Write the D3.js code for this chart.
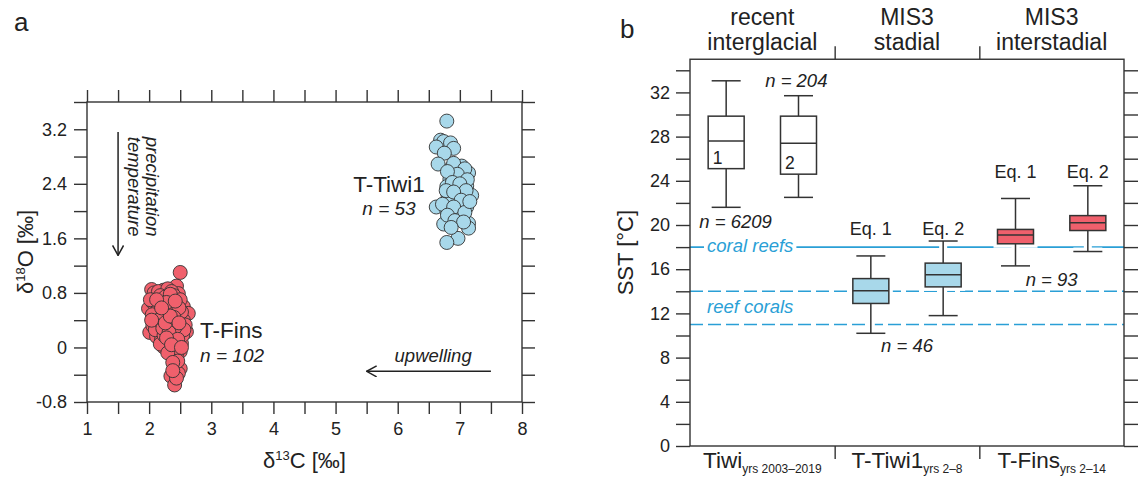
<!DOCTYPE html>
<html>
<head>
<meta charset="utf-8">
<script src="https://cdn.jsdelivr.net/npm/d3@7"></script>
<style>
body { margin: 0; background: #fff; }
svg text { font-family: Arial, "Liberation Sans", sans-serif; fill: #222; }
</style>
</head>
<body>
<svg id="chart" width="1141" height="477"></svg>
<script>
// ---------- panel a data : [d13C, d18O] ----------
var finsPoints = [
  [2.50,1.10],[2.04,0.85],[2.44,0.90],[2.47,0.79],[2.23,0.84],[2.10,0.73],[2.20,0.67],[2.44,0.65],[2.55,0.60],[1.99,0.57],
  [2.12,0.56],[2.28,0.52],[2.63,0.50],[2.39,0.48],[2.12,0.43],[2.33,0.40],[2.23,0.35],[2.47,0.30],[2.01,0.22],[2.60,0.23],
  [2.17,0.21],[2.33,0.16],[2.50,0.13],[2.23,0.01],[2.32,-0.01],[2.52,0.06],[2.50,-0.06],[2.41,-0.16],[2.41,-0.28],[2.50,-0.31],
  [2.35,-0.42],[2.41,-0.55],[2.47,-0.38],
  [2.08,0.80],[2.15,0.82],[2.30,0.86],[2.36,0.82],[2.40,0.76],[2.18,0.76],[2.26,0.74],[2.32,0.70],[2.06,0.66],[2.14,0.62],
  [2.24,0.60],[2.36,0.62],[2.50,0.70],[2.42,0.56],[2.30,0.58],[2.18,0.52],[2.05,0.48],[2.10,0.36],[2.20,0.44],[2.26,0.46],
  [2.36,0.50],[2.46,0.44],[2.55,0.40],[2.52,0.52],[2.58,0.33],[2.40,0.36],[2.30,0.30],[2.16,0.30],[2.06,0.32],[2.26,0.25],
  [2.38,0.26],[2.44,0.20],[2.54,0.18],[2.12,0.16],[2.20,0.12],[2.28,0.08],[2.38,0.10],[2.45,0.04],[2.18,0.05],[2.36,-0.04],
  [2.44,-0.10],[2.30,-0.08],[2.46,-0.20],[2.38,-0.22],[2.44,-0.45],[2.38,-0.34],[2.02,0.70],[2.10,0.26],[2.24,0.18],[2.34,0.78],
  [2.28,0.66],[2.48,0.58],[2.56,0.26],[2.42,0.30],[2.16,0.40],[2.04,0.40],[2.22,0.28],[2.32,0.22],[2.46,0.12],[2.26,0.36],
  [2.40,0.44],[2.12,0.70],[2.34,0.46],[2.20,0.58],[2.48,0.36],[2.28,0.14],[2.36,0.04],[2.52,0.00],[2.42,0.68]
];
var tiwiPoints = [
  [6.79,3.32],[6.69,3.04],[6.74,3.02],[6.85,3.00],[6.62,2.94],[6.90,2.92],[6.75,2.85],[6.65,2.69],[6.87,2.64],[7.03,2.66],
  [7.14,2.56],[6.84,2.47],[7.03,2.51],[7.11,2.37],[6.79,2.36],[6.92,2.36],[7.05,2.26],[7.19,2.23],[6.81,2.23],[6.95,2.19],
  [6.62,2.06],[6.84,2.14],[7.00,2.09],[7.11,2.06],[7.03,2.02],[6.79,2.01],[6.95,2.01],[6.84,1.89],[7.14,1.82],[7.14,1.75],
  [6.74,1.81],[7.00,1.92],[6.97,1.60],[6.79,1.54],
  [6.90,2.70],[7.08,2.62],[6.96,2.54],[6.80,2.58],[7.12,2.46],[6.88,2.42],[7.00,2.40],[6.78,2.30],[7.10,2.30],[6.90,2.28],
  [7.02,2.16],[6.72,2.10],[6.90,2.06],[7.08,1.98],[6.80,1.94],[6.92,1.86],[7.06,1.84],[6.86,1.76],[7.16,2.14]
];
var xTickLabelsA = [1, 2, 3, 4, 5, 6, 7, 8];
var yTickLabelsA = [-0.8, 0, 0.8, 1.6, 2.4, 3.2];

// ---------- panel b data : SST [deg C] ----------
var periods = [["recent", "interglacial"], ["MIS3", "stadial"], ["MIS3", "interstadial"]];
var sites = ["Tiwi", "T-Tiwi1", "T-Fins"];
var siteYears = ["yrs 2003\u20132019", "yrs 2\u20138", "yrs 2\u201314"];
var whiskLow  = [21.6, 22.5, 10.2, 11.8, 16.3, 17.6];
var quart1    = [25.1, 24.6, 12.9, 14.4, 18.3, 19.5];
var medians   = [27.6, 27.4, 14.05, 15.5, 19.1, 20.2];
var quart3    = [29.85, 29.85, 15.15, 16.55, 19.6, 20.85];
var whiskHigh = [33.05, 31.7, 17.2, 18.55, 22.4, 23.55];
var boxTags = ["1", "2", "Eq. 1", "Eq. 2", "Eq. 1", "Eq. 2"];
var sstTickLabels = [0, 4, 8, 12, 16, 20, 24, 28, 32];
var thresholdLevels = [18, 14, 11];
var nLabels = ["n = 6209", "n = 204", "n = 46", "n = 93"];

var ink = "#333";
var blueFill = "#a8d8ea";
var redFill = "#f0606c";
var lineBlue = "#2a9fd6";
var boxFills = ["#fff", "#fff", blueFill, blueFill, redFill, redFill];

var svg = d3.select("#chart");

// open arrow head
svg.append("defs").append("marker")
  .attr("id", "arrowOpen")
  .attr("viewBox", "0 0 12 12")
  .attr("refX", 11).attr("refY", 6)
  .attr("markerWidth", 12).attr("markerHeight", 12)
  .attr("markerUnits", "userSpaceOnUse")
  .attr("orient", "auto")
  .append("path")
  .attr("d", "M1,0.5 L11,6 L1,11.5")
  .attr("fill", "none").attr("stroke", "#222").attr("stroke-width", 1.5);

function styleAxis(g, size)
{
  g.select(".domain").remove();
  g.selectAll(".tick line").attr("stroke", ink).attr("stroke-width", 1.4);
  g.selectAll(".tick text").attr("font-size", size).attr("fill", "#222")
    .attr("font-family", "Arial, 'Liberation Sans', sans-serif");
}

// ================= panel a =================
var xA = d3.scaleLinear().domain([1, 8]).range([87, 522]);
var yA = d3.scaleLinear().domain([-0.8, 3.6]).range([402, 102]);
var gA = svg.append("g");

var xTickValsA = d3.range(2, 17).map(function(k) { return k * 0.5; });
var yTickValsA = d3.range(-2, 10).map(function(k) { return +(k * 0.4).toFixed(1); });
var fmtXA = function(v) { return xTickLabelsA.indexOf(v) >= 0 ? String(v) : ""; };
var fmtYA = function(v) { return yTickLabelsA.indexOf(v) >= 0 ? (v === 0 ? "0" : v.toFixed(1)) : ""; };

gA.append("g").attr("transform", "translate(0," + yA.range()[0] + ")")
  .call(d3.axisBottom(xA).tickValues(xTickValsA).tickFormat(fmtXA).tickSize(12).tickPadding(8))
  .call(styleAxis, 18);
gA.append("g").attr("transform", "translate(0," + yA.range()[1] + ")")
  .call(d3.axisTop(xA).tickValues(xTickValsA).tickFormat("").tickSize(12))
  .call(styleAxis, 18);
gA.append("g").attr("transform", "translate(" + xA.range()[0] + ",0)")
  .call(d3.axisLeft(yA).tickValues(yTickValsA).tickFormat(fmtYA).tickSize(13).tickPadding(7))
  .call(styleAxis, 18);
gA.append("g").attr("transform", "translate(" + xA.range()[1] + ",0)")
  .call(d3.axisRight(yA).tickValues(yTickValsA).tickFormat("").tickSize(13))
  .call(styleAxis, 18);

gA.append("rect")
  .attr("x", xA(1)).attr("y", yA(3.6))
  .attr("width", xA(8) - xA(1)).attr("height", yA(-0.8) - yA(3.6))
  .attr("fill", "none").attr("stroke", ink).attr("stroke-width", 1.4);

// scatter
[[finsPoints, redFill], [tiwiPoints, blueFill]].forEach(function(set)
{
  gA.append("g").selectAll("circle").data(set[0]).enter().append("circle")
    .attr("cx", function(d) { return xA(d[0]); })
    .attr("cy", function(d) { return yA(d[1]); })
    .attr("r", 7)
    .attr("fill", set[1])
    .attr("stroke", "#333").attr("stroke-width", 0.9);
});

// arrows
gA.append("line")
  .attr("x1", xA(1.5)).attr("x2", xA(1.5)).attr("y1", yA(3.16)).attr("y2", yA(1.35))
  .attr("stroke", "#222").attr("stroke-width", 1.5).attr("marker-end", "url(#arrowOpen)");
gA.append("line")
  .attr("x1", xA(7.5)).attr("x2", xA(5.5)).attr("y1", yA(-0.35)).attr("y2", yA(-0.35))
  .attr("stroke", "#222").attr("stroke-width", 1.5).attr("marker-end", "url(#arrowOpen)");

[["precipitation", 1.95], ["temperature", 1.66]].forEach(function(t)
{
  gA.append("text")
    .attr("transform", "translate(" + xA(t[1]) + "," + yA(3.09) + ") rotate(90)")
    .attr("font-size", 18.5).attr("font-style", "italic")
    .text(t[0]);
});
gA.append("text").attr("x", xA(6.57)).attr("y", yA(-0.21))
  .attr("text-anchor", "middle").attr("font-size", 18.5).attr("font-style", "italic")
  .text("upwelling");

gA.append("text").attr("x", xA(5.86)).attr("y", yA(2.28))
  .attr("text-anchor", "middle").attr("font-size", 22.5).text("T-Tiwi1");
gA.append("text").attr("x", xA(5.86)).attr("y", yA(1.94))
  .attr("text-anchor", "middle").attr("font-size", 19).attr("font-style", "italic").text("n = 53");
gA.append("text").attr("x", xA(2.82)).attr("y", yA(0.14))
  .attr("font-size", 22.5).text("T-Fins");
gA.append("text").attr("x", xA(2.82)).attr("y", yA(-0.21))
  .attr("font-size", 19).attr("font-style", "italic").text("n = 102");

// axis titles
var xTitle = gA.append("text")
  .attr("x", (xA(1) + xA(8)) / 2).attr("y", 468)
  .attr("text-anchor", "middle").attr("font-size", 22);
xTitle.append("tspan").text("\u03b4");
xTitle.append("tspan").attr("font-size", 13).attr("dy", -8).text("13");
xTitle.append("tspan").attr("dy", 8).text("C [\u2030]");

var yTitle = gA.append("text")
  .attr("transform", "translate(33," + (yA(-0.8) + yA(3.6)) / 2 + ") rotate(-90)")
  .attr("text-anchor", "middle").attr("font-size", 22);
yTitle.append("tspan").text("\u03b4");
yTitle.append("tspan").attr("font-size", 13).attr("dy", -8).text("18");
yTitle.append("tspan").attr("dy", 8).text("O [\u2030]");

svg.append("text").attr("x", 14).attr("y", 31).attr("font-size", 26).text("a");

// ================= panel b =================
var xB = d3.scaleLinear().domain([-0.5, 5.5]).range([690, 1124]);
var xG = d3.scaleLinear().domain([0, 3]).range([690, 1124]);
var yB = d3.scaleLinear().domain([0, 35]).range([446, 59.25]);
var gB = svg.append("g");

var sstTickVals = d3.range(0, 35, 2);
var fmtB = function(v) { return sstTickLabels.indexOf(v) >= 0 ? String(v) : ""; };

gB.append("g").attr("transform", "translate(" + xB.range()[0] + ",0)")
  .call(d3.axisLeft(yB).tickValues(sstTickVals).tickFormat(fmtB).tickSize(14).tickPadding(6))
  .call(styleAxis, 18);
gB.append("g").attr("transform", "translate(" + xB.range()[1] + ",0)")
  .call(d3.axisRight(yB).tickValues(sstTickVals).tickFormat("").tickSize(14))
  .call(styleAxis, 18);
gB.append("g").attr("transform", "translate(0," + yB.range()[1] + ")")
  .call(d3.axisTop(xG).tickValues([1, 2]).tickFormat("").tickSize(13))
  .call(styleAxis, 18);
gB.append("g").attr("transform", "translate(0," + yB.range()[0] + ")")
  .call(d3.axisBottom(xG).tickValues([1, 2]).tickFormat("").tickSize(13))
  .call(styleAxis, 18);

// threshold lines
thresholdLevels.forEach(function(level, i)
{
  gB.append("line")
    .attr("x1", xB.range()[0]).attr("x2", xB.range()[1])
    .attr("y1", yB(level)).attr("y2", yB(level))
    .attr("stroke", lineBlue).attr("stroke-width", 1.6)
    .attr("stroke-dasharray", i === 0 ? null : "13,5");
});

// zone labels with white knock-out
[["coral reefs", 17.58], ["reef corals", 12.04]].forEach(function(z)
{
  var t = gB.append("text").attr("x", xB.range()[0] + 17).attr("y", yB(z[1]))
    .attr("font-size", 18.5).attr("font-style", "italic").style("fill", lineBlue)
    .text(z[0]);
  var bb = t.node().getBBox();
  gB.insert("rect", function() { return t.node(); })
    .attr("x", bb.x - 3).attr("y", bb.y).attr("width", bb.width + 6).attr("height", bb.height)
    .attr("fill", "#fff");
});

// boxes
var capHalf = 14.5, boxHalf = 18;
d3.range(6).forEach(function(i)
{
  var cx = xB(i);
  var g = gB.append("g");
  // white halo so lines break around the boxes
  [["halo", "#fff", 8], ["ink", ink, 1.5]].forEach(function(layer)
  {
    var col = layer[1], w = layer[2];
    g.append("line").attr("x1", cx).attr("x2", cx).attr("y1", yB(whiskHigh[i])).attr("y2", yB(quart3[i]))
      .attr("stroke", col).attr("stroke-width", w);
    g.append("line").attr("x1", cx).attr("x2", cx).attr("y1", yB(quart1[i])).attr("y2", yB(whiskLow[i]))
      .attr("stroke", col).attr("stroke-width", w);
    [whiskHigh[i], whiskLow[i]].forEach(function(v)
    {
      g.append("line").attr("x1", cx - capHalf).attr("x2", cx + capHalf).attr("y1", yB(v)).attr("y2", yB(v))
        .attr("stroke", col).attr("stroke-width", w);
    });
    g.append("rect")
      .attr("x", cx - boxHalf).attr("width", 2 * boxHalf)
      .attr("y", yB(quart3[i])).attr("height", yB(quart1[i]) - yB(quart3[i]))
      .attr("fill", layer[0] === "halo" ? "#fff" : boxFills[i])
      .attr("stroke", col).attr("stroke-width", w);
  });
  g.append("line").attr("x1", cx - boxHalf).attr("x2", cx + boxHalf).attr("y1", yB(medians[i])).attr("y2", yB(medians[i]))
    .attr("stroke", ink).attr("stroke-width", 1.5);
});

// box tags: numbers inside the Tiwi boxes, equation names above the fossil boxes
var eqLevels = [null, null, 19.1, 19.1, 24.25, 24.25];
boxTags.forEach(function(tag, i)
{
  if (eqLevels[i] === null)
  {
    gB.append("text").attr("x", xB(i) - boxHalf + 4.5).attr("y", yB(quart1[i]) - 5)
      .attr("font-size", 17.5).text(tag);
  }
  else
  {
    gB.append("text").attr("x", xB(i)).attr("y", yB(eqLevels[i]))
      .attr("text-anchor", "middle").attr("font-size", 18).text(tag);
  }
});

// sample sizes
var nPos = [[0.13, 19.75], [0.97, 32.45], [2.5, 8.53], [4.5, 14.48]];
nLabels.forEach(function(lab, i)
{
  gB.append("text").attr("x", xB(nPos[i][0])).attr("y", yB(nPos[i][1]))
    .attr("text-anchor", "middle").attr("font-size", 18.5).attr("font-style", "italic")
    .text(lab);
});

// frame
gB.append("rect")
  .attr("x", xB.range()[0]).attr("y", yB(35))
  .attr("width", xB.range()[1] - xB.range()[0]).attr("height", yB(0) - yB(35))
  .attr("fill", "none").attr("stroke", ink).attr("stroke-width", 1.4);

// period headers and site names
periods.forEach(function(p, i)
{
  var cx = xG(i + 0.5);
  p.forEach(function(line, j)
  {
    gB.append("text").attr("x", cx).attr("y", 25 + j * 25)
      .attr("text-anchor", "middle").attr("font-size", 23).text(line);
  });
  var t = gB.append("text").attr("x", cx).attr("y", 468)
    .attr("text-anchor", "middle").attr("font-size", 22.5);
  t.append("tspan").text(sites[i]);
  t.append("tspan").attr("font-size", 12).attr("dy", 5).text(siteYears[i]);
});

gB.append("text")
  .attr("transform", "translate(633," + (yB(0) + yB(35)) / 2 + ") rotate(-90)")
  .attr("text-anchor", "middle").attr("font-size", 22).text("SST [\u00b0C]");

svg.append("text").attr("x", 620).attr("y", 38).attr("font-size", 26).text("b");
</script>
</body>
</html>
